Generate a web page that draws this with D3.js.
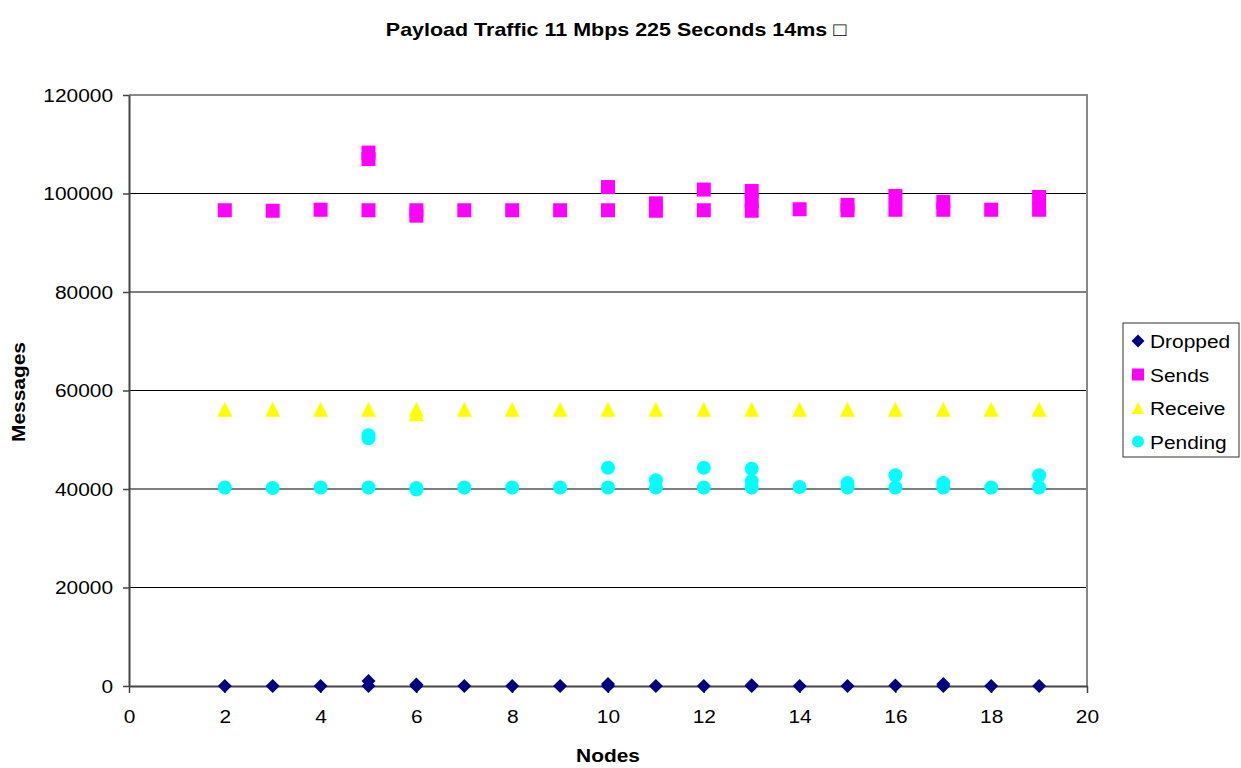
<!DOCTYPE html>
<html lang="en">
<head>
    <meta charset="UTF-8">
    <title>Payload Traffic</title>
    <style>
        html,
        body {
            margin: 0;
            height: 100%;
            overflow: hidden;
            background: #fff;
        }
        text {
            font-family: Arial, "Liberation Sans", sans-serif;
        }
    </style>
    <script src="https://d3js.org/d3.v7.min.js"></script>
</head>
<body>
    <svg id="svg"></svg>
    <script>
        const width = 1241;
        const height = 768;
        const svg = d3.select("#svg").attr('width', width).attr('height', height);

        // [node, messages]
        const dropped = [
            [2, 0], [3, 0], [4, 0], [5, 1000], [5, 0], [6, 300], [6, 0], [7, 0], [8, 0], [9, 0],
            [10, 400], [10, 0], [11, 0], [12, 0], [13, 150], [13, 0], [14, 0], [15, 0], [16, 100],
            [17, 400], [17, 0], [18, 0], [19, 0]
        ];
        const sends = [
            [2, 96600], [3, 96500], [4, 96700], [5, 108300], [5, 107000], [5, 96600], [6, 96600],
            [6, 95500], [7, 96600], [8, 96600], [9, 96600], [10, 101300], [10, 96600], [11, 98000],
            [11, 96500], [12, 100800], [12, 96600], [13, 100500], [13, 98500], [13, 96500],
            [14, 96800], [15, 97700], [15, 96600], [16, 99500], [16, 96700], [17, 98300],
            [17, 96700], [18, 96700], [19, 99300], [19, 96700]
        ];
        const receive = [
            [2, 56200], [3, 56200], [4, 56200], [5, 56200], [6, 56200], [6, 55300], [7, 56200],
            [8, 56200], [9, 56200], [10, 56200], [11, 56200], [12, 56200], [13, 56200],
            [14, 56200], [15, 56200], [16, 56200], [17, 56200], [18, 56200], [19, 56200]
        ];
        const pending = [
            [2, 40300], [3, 40200], [4, 40300], [5, 50900], [5, 50300], [5, 40300], [6, 40200],
            [6, 39900], [7, 40300], [8, 40300], [9, 40300], [10, 44300], [10, 40300], [11, 41800],
            [11, 40300], [12, 44300], [12, 40300], [13, 44100], [13, 41600], [13, 40300],
            [14, 40400], [15, 41200], [15, 40300], [16, 42800], [16, 40300], [17, 41200],
            [17, 40300], [18, 40300], [19, 42800], [19, 40300]
        ];
        const seriesNames = ['Dropped', 'Sends', 'Receive', 'Pending'];
        const xTicks = [0, 2, 4, 6, 8, 10, 12, 14, 16, 18, 20];
        const yTicks = [0, 20000, 40000, 60000, 80000, 100000, 120000];

        const series = [
            { name: 'Dropped', data: dropped, color: '#000080', shape: 'diamond' },
            { name: 'Sends', data: sends, color: '#ff00ff', shape: 'square' },
            { name: 'Receive', data: receive, color: '#ffff00', shape: 'triangle' },
            { name: 'Pending', data: pending, color: '#00ffff', shape: 'circle' }
        ];

        const sx = 1.1; // text in the picture is a little wide
        const fs = 19;
        const plot = { left: 129, right: 1087, top: 95, bottom: 686 };

        const xScale = d3.scaleLinear().domain([0, 20]).range([plot.left, plot.right]);
        const yScale = d3.scaleLinear().domain([0, 120000]).range([plot.bottom, plot.top]);

        function marker(shape, r) {
            if (shape === 'diamond') return `M0,${-r}L${r},0L0,${r}L${-r},0Z`;
            if (shape === 'square') return `M${-r},${-r}H${r}V${r}H${-r}Z`;
            if (shape === 'triangle') return `M0,${-r}L${r},${r}H${-r}Z`;
            return d3.arc()({ innerRadius: 0, outerRadius: r, startAngle: 0, endAngle: 2 * Math.PI });
        }

        function label(x, y, str, size, weight, anchor, rotate, scaleX) {
            return svg.append('text')
                .attr('transform', `translate(${x},${y})` + (rotate ? ' rotate(-90)' : '') + ` scale(${scaleX || sx},1)`)
                .attr('font-size', size)
                .attr('font-weight', weight)
                .attr('text-anchor', anchor)
                .attr('fill', '#000')
                .text(str);
        }

        // gridlines
        svg.append('g').selectAll('line').data(yTicks.filter(d => d > 0 && d < 120000)).join('line')
            .attr('x1', plot.left).attr('x2', plot.right)
            .attr('y1', d => yScale(d)).attr('y2', d => yScale(d))
            .attr('stroke', '#000').attr('stroke-width', 1);

        // plot frame (top / right)
        svg.append('path')
            .attr('d', `M${plot.left},${plot.top}H${plot.right}V${plot.bottom}`)
            .attr('fill', 'none').attr('stroke', '#888').attr('stroke-width', 2);

        // axes
        const yAxis = d3.axisLeft(yScale).tickValues(yTicks).tickFormat(d3.format('d'))
            .tickSize(6).tickPadding(8.5).tickSizeOuter(0);
        const gy = svg.append('g').attr('transform', `translate(${plot.left},0)`).call(yAxis);
        const xAxis = d3.axisBottom(xScale).tickValues(xTicks).tickFormat(d3.format('d'))
            .tickSize(7).tickPadding(17).tickSizeOuter(0);
        const gx = svg.append('g').attr('transform', `translate(0,${plot.bottom})`).call(xAxis);

        [gx, gy].forEach(g => {
            g.select('.domain').attr('stroke', '#444').attr('stroke-width', 2);
            g.selectAll('.tick line').attr('stroke', '#444').attr('stroke-width', 1.5);
            g.selectAll('.tick text')
                .attr('font-size', fs)
                .attr('font-family', 'Arial, "Liberation Sans", sans-serif')
                .attr('fill', '#000')
                .attr('transform', `scale(${sx},1)`);
        });

        // points
        series.forEach(s => {
            svg.append('g').selectAll('path').data(s.data).join('path')
                .attr('transform', d => `translate(${xScale(d[0])},${yScale(d[1])})`)
                .attr('d', marker(s.shape, s.shape === 'triangle' ? 7.5 : 7))
                .attr('fill', s.color);
        });

        // titles
        label(616, 36, 'Payload Traffic 11 Mbps 225 Seconds 14ms \u25A1', fs, 'bold', 'middle', false, 1.13);
        label(608, 762, 'Nodes', fs, 'bold', 'middle', false);
        label(25, 392, 'Messages', fs, 'bold', 'middle', true);

        // legend
        const legend = svg.append('g');
        legend.append('rect')
            .attr('x', 1123).attr('y', 323).attr('width', 116).attr('height', 134)
            .attr('fill', '#fff').attr('stroke', '#333').attr('stroke-width', 1);
        series.forEach((s, i) => {
            const y = 341 + i * 33.5;
            legend.append('path')
                .attr('transform', `translate(1138,${y})`)
                .attr('d', marker(s.shape, s.shape === 'diamond' ? 6.5 : 6))
                .attr('fill', s.color);
            label(1150, y + 7, seriesNames[i], fs, 'normal', 'start', false);
        });
    </script>
</body>
</html>
